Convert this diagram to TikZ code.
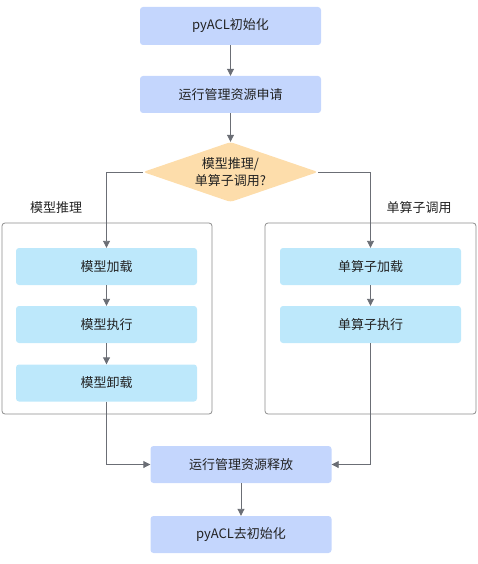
\documentclass[tikz,border=0pt]{standalone}
\usepackage{fontspec}
\setmainfont{Noto Sans CJK SC}
\usetikzlibrary{shapes.geometric,arrows.meta}
\definecolor{mainbox}{HTML}{C4D6FD}
\definecolor{subbox}{HTML}{BDE8FB}
\definecolor{decfill}{HTML}{FDDDAB}
\definecolor{linegray}{HTML}{6B6E75}
\definecolor{framegray}{HTML}{8C8C8C}
\definecolor{txt}{HTML}{222222}
\tikzset{
  mainstep/.style={draw=none,fill=mainbox,rounded corners=3pt,minimum width=181pt,minimum height=37pt,inner sep=0pt,text=txt,font=\fontsize{13}{16}\selectfont},
  substep/.style={draw=none,fill=subbox,rounded corners=3pt,minimum width=181pt,minimum height=37pt,inner sep=0pt,text=txt,font=\fontsize{13}{16}\selectfont},
  decision/.style={shape=diamond,fill=decfill,rounded corners=3pt,inner sep=0pt,aspect=2.9,minimum width=175pt,minimum height=60pt,text=txt,align=center,font=\fontsize{13}{17}\selectfont},
  groupframe/.style={draw=framegray,line width=0.8pt,rounded corners=3pt,inner sep=0pt},
  grouplabel/.style={text=txt,font=\fontsize{13}{16}\selectfont,inner sep=0pt},
  arr/.style={draw=linegray,line width=0.9pt,-{Triangle[width=7pt,length=7pt]}}
}
\begin{document}
\begin{tikzpicture}[x=1pt,y=-1pt]
\useasboundingbox (0,0) rectangle (477,564);
\node[groupframe,minimum width=210pt,minimum height=191pt] (lg) at (107,318.5) {};
\node[groupframe,minimum width=211pt,minimum height=191pt] (rg) at (370.5,318.5) {};
\node[grouplabel] (lgl) at (56,208) {模型推理};
\node[grouplabel] (rgl) at (419,208) {单算子调用};
\node[mainstep,minimum height=38pt] (init) at (230.5,26) {pyACL初始化};
\node[mainstep] (req) at (230.5,94.5) {运行管理资源申请};
\node[decision] (dec) at (230.5,172) {模型推理/\\单算子调用?};
\node[substep] (m1) at (106.5,266.5) {模型加载};
\node[substep] (m2) at (106.5,324.5) {模型执行};
\node[substep] (m3) at (106.5,383) {模型卸载};
\node[substep] (s1) at (370.5,266.5) {单算子加载};
\node[substep] (s2) at (370.5,324.5) {单算子执行};
\node[mainstep] (rel) at (241,464.5) {运行管理资源释放};
\node[mainstep] (fin) at (241,534.5) {pyACL去初始化};
\draw[arr] (init) -- (req);
\draw[arr] (req) -- (dec);
\draw[arr] (dec.west) -| (m1.north);
\draw[arr] (dec.east) -| (s1.north);
\draw[arr] (m1) -- (m2);
\draw[arr] (m2) -- (m3);
\draw[arr] (s1) -- (s2);
\draw[arr] (m3.south) |- (rel.west);
\draw[arr] (s2.south) |- (rel.east);
\draw[arr] (rel) -- (fin);
\end{tikzpicture}
\end{document}
